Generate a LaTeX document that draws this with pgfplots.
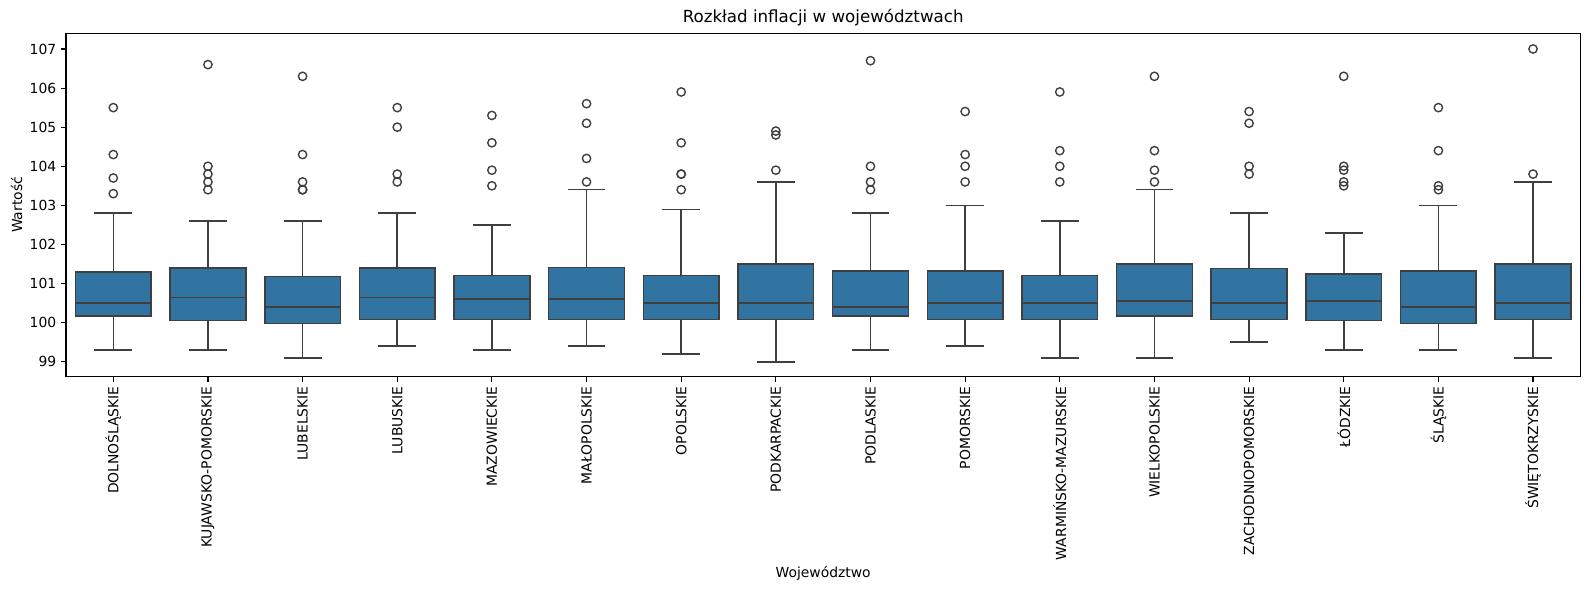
\documentclass[border=0pt]{standalone}
\usepackage{fontspec}
\setmainfont{DejaVu Sans}
\usepackage{pgfplots}
\pgfplotsset{compat=1.18}
\usepgfplotslibrary{statistics}
\definecolor{boxblue}{HTML}{3274A1}
\definecolor{edge}{HTML}{3F3F3F}

\pgfplotsset{
  bx/.style={draw=edge, line width=1.1pt, mark=o, mark size=3pt,
    mark options={draw=edge, line width=1pt, solid}},
}

\begin{document}
\begin{tikzpicture}
\begin{axis}[
  at={(47.5pt,153.6pt)}, anchor=south west,
  scale only axis, width=1090.4pt, height=247.2pt,
  xmin=-0.5, xmax=15.5, ymin=98.62, ymax=107.40,
  xtick={0,...,15}, ytick={99,...,107},
  xticklabels={DOLNOŚLĄSKIE,KUJAWSKO-POMORSKIE,LUBELSKIE,LUBUSKIE,MAZOWIECKIE,MAŁOPOLSKIE,OPOLSKIE,PODKARPACKIE,PODLASKIE,POMORSKIE,WARMIŃSKO-MAZURSKIE,WIELKOPOLSKIE,ZACHODNIOPOMORSKIE,ŁÓDZKIE,ŚLĄSKIE,ŚWIĘTOKRZYSKIE},
  xtick pos=left, ytick pos=left,
  tick align=outside, major tick length=3.5pt,
  every tick/.style={black, line width=0.8pt},
  axis line style={line width=0.8pt},
  /pgf/number format/assume math mode=true,
  xticklabel style={rotate=90, anchor=east, font=\fontsize{10}{12}\selectfont},
  yticklabel style={font=\fontsize{10}{12}\selectfont},
  title={Rozkład inflacji w województwach},
  title style={font=\fontsize{12}{14}\selectfont, at={(axis description cs:0.5,1)}, anchor=center, yshift=5pt},
  xlabel={Województwo},
  xlabel style={font=\fontsize{10}{12}\selectfont, at={(axis description cs:0.5,-0.5716)}, anchor=center},
  ylabel={Wartość},
  ylabel style={font=\fontsize{10}{12}\selectfont, at={(axis description cs:-0.0326,0.5)}, anchor=center, rotate=0},
  boxplot/draw direction=y,
  boxplot/box extend=0.8,
  boxplot/whisker extend=0.4,
  boxplot/every box/.style={draw=edge, fill=boxblue},
  boxplot/every whisker/.style={draw=edge},
  boxplot/every median/.style={draw=edge},
]
% DOLNOŚLĄSKIE
\addplot[bx, boxplot prepared={draw position=0, lower whisker=99.3, lower quartile=100.17, median=100.5, upper quartile=101.3, upper whisker=102.8}]
  table[row sep=\\, y index=0] {y\\105.5\\104.3\\103.7\\103.3\\};
% KUJAWSKO-POMORSKIE
\addplot[bx, boxplot prepared={draw position=1, lower whisker=99.3, lower quartile=100.06, median=100.65, upper quartile=101.4, upper whisker=102.6}]
  table[row sep=\\, y index=0] {y\\106.6\\104.0\\103.8\\103.6\\103.4\\};
% LUBELSKIE
\addplot[bx, boxplot prepared={draw position=2, lower whisker=99.1, lower quartile=99.98, median=100.4, upper quartile=101.18, upper whisker=102.6}]
  table[row sep=\\, y index=0] {y\\106.3\\104.3\\103.6\\103.4\\103.4\\};
% LUBUSKIE
\addplot[bx, boxplot prepared={draw position=3, lower whisker=99.4, lower quartile=100.08, median=100.65, upper quartile=101.4, upper whisker=102.8}]
  table[row sep=\\, y index=0] {y\\105.5\\105.0\\103.8\\103.6\\};
% MAZOWIECKIE
\addplot[bx, boxplot prepared={draw position=4, lower whisker=99.3, lower quartile=100.08, median=100.6, upper quartile=101.21, upper whisker=102.5}]
  table[row sep=\\, y index=0] {y\\105.3\\104.6\\103.9\\103.5\\};
% MAŁOPOLSKIE
\addplot[bx, boxplot prepared={draw position=5, lower whisker=99.4, lower quartile=100.08, median=100.6, upper quartile=101.41, upper whisker=103.4}]
  table[row sep=\\, y index=0] {y\\105.6\\105.1\\104.2\\103.6\\};
% OPOLSKIE
\addplot[bx, boxplot prepared={draw position=6, lower whisker=99.2, lower quartile=100.08, median=100.5, upper quartile=101.21, upper whisker=102.9}]
  table[row sep=\\, y index=0] {y\\105.9\\104.6\\103.8\\103.8\\103.4\\};
% PODKARPACKIE
\addplot[bx, boxplot prepared={draw position=7, lower whisker=99.0, lower quartile=100.08, median=100.5, upper quartile=101.5, upper whisker=103.6}]
  table[row sep=\\, y index=0] {y\\104.9\\104.8\\103.9\\};
% PODLASKIE
\addplot[bx, boxplot prepared={draw position=8, lower whisker=99.3, lower quartile=100.17, median=100.4, upper quartile=101.32, upper whisker=102.8}]
  table[row sep=\\, y index=0] {y\\106.7\\104.0\\103.6\\103.4\\};
% POMORSKIE
\addplot[bx, boxplot prepared={draw position=9, lower whisker=99.4, lower quartile=100.08, median=100.5, upper quartile=101.32, upper whisker=103.0}]
  table[row sep=\\, y index=0] {y\\105.4\\104.3\\104.0\\103.6\\};
% WARMIŃSKO-MAZURSKIE
\addplot[bx, boxplot prepared={draw position=10, lower whisker=99.1, lower quartile=100.08, median=100.5, upper quartile=101.21, upper whisker=102.6}]
  table[row sep=\\, y index=0] {y\\105.9\\104.4\\104.0\\103.6\\};
% WIELKOPOLSKIE
\addplot[bx, boxplot prepared={draw position=11, lower whisker=99.1, lower quartile=100.17, median=100.55, upper quartile=101.5, upper whisker=103.4}]
  table[row sep=\\, y index=0] {y\\106.3\\104.4\\103.9\\103.6\\};
% ZACHODNIOPOMORSKIE
\addplot[bx, boxplot prepared={draw position=12, lower whisker=99.5, lower quartile=100.08, median=100.5, upper quartile=101.39, upper whisker=102.8}]
  table[row sep=\\, y index=0] {y\\105.4\\105.1\\104.0\\103.8\\};
% ŁÓDZKIE
\addplot[bx, boxplot prepared={draw position=13, lower whisker=99.3, lower quartile=100.06, median=100.55, upper quartile=101.24, upper whisker=102.3}]
  table[row sep=\\, y index=0] {y\\106.3\\104.0\\103.9\\103.6\\103.5\\};
% ŚLĄSKIE
\addplot[bx, boxplot prepared={draw position=14, lower whisker=99.3, lower quartile=99.98, median=100.4, upper quartile=101.32, upper whisker=103.0}]
  table[row sep=\\, y index=0] {y\\105.5\\104.4\\103.5\\103.4\\};
% ŚWIĘTOKRZYSKIE
\addplot[bx, boxplot prepared={draw position=15, lower whisker=99.1, lower quartile=100.08, median=100.5, upper quartile=101.5, upper whisker=103.6}]
  table[row sep=\\, y index=0] {y\\107.0\\103.8\\};
\end{axis}
\pgfresetboundingbox
\path (0,0) rectangle (1144.1pt,424.8pt);
\end{tikzpicture}
\end{document}
